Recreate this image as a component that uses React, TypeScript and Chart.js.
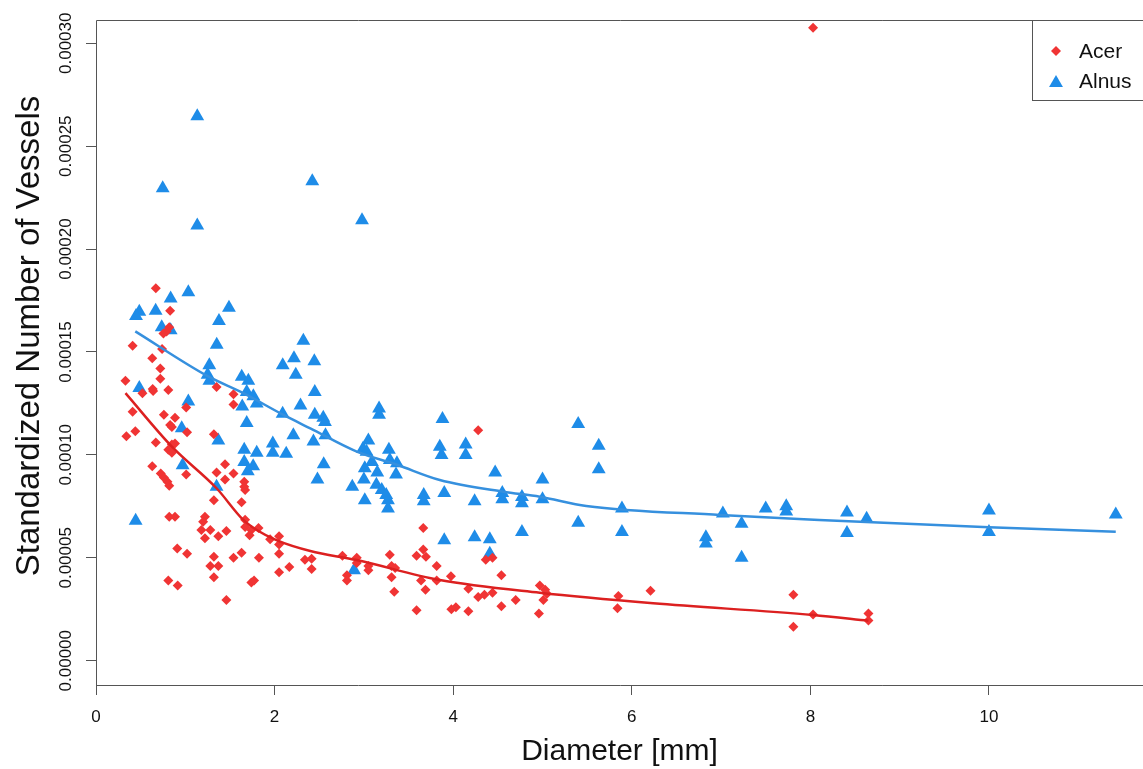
import React, { useEffect, useRef } from "react";
import { Chart, registerables } from "chart.js";

Chart.register(...registerables);

// ---------- data ----------
const seriesNames = ["Acer", "Alnus"];
const xTitle = "Diameter [mm]";
const yTitle = "Standardized Number of Vessels";
const xTicks = [0, 2, 4, 6, 8, 10];
const yTicks = [0, 5e-5, 10e-5, 15e-5, 20e-5, 25e-5, 30e-5];

const acerX = [
  0.67, 0.83, 0.755, 0.79, 0.82, 0.41, 0.74, 0.63, 0.72, 0.72, 0.33, 0.52, 0.635, 0.64, 0.81,
  1.35, 1.54, 1.54, 1.01, 0.41, 0.76, 0.885, 0.83, 0.85, 0.44, 0.34, 1.02, 1.32, 0.67, 0.85,
  0.885, 0.81, 0.85, 0.63, 0.725, 0.76, 0.8, 0.82, 1.01, 1.35, 1.445, 1.54, 1.445, 1.66, 1.66,
  1.67, 1.32, 1.63, 0.82, 0.885, 1.22, 1.2, 1.67, 1.67, 1.18, 1.28, 1.46, 1.74, 1.72, 1.82,
  1.22, 1.37, 1.95, 2.05, 2.05, 0.91, 1.02, 1.32, 1.54, 1.63, 1.825, 2.05, 2.34, 2.415, 2.415,
  1.28, 1.37, 1.32, 2.05, 2.165, 0.81, 0.915, 1.74, 1.77, 1.46, 2.76, 2.92, 2.92, 3.05, 3.05,
  2.81, 2.81, 3.29, 3.31, 3.35, 3.31, 3.34, 3.665, 3.59, 3.665, 3.695, 3.64, 3.69, 3.59, 3.815,
  3.815, 3.975, 3.98, 4.03, 4.17, 4.17, 4.28, 4.35, 4.44, 4.365, 4.44, 4.54, 4.54, 4.7, 4.28,
  4.97, 5.03, 5.05, 5.01, 4.96, 5.85, 5.84, 6.21, 7.81, 7.81, 8.03, 8.65, 8.65, 8.03,
];
const acerY = [
  18.1e-5, 17.0e-5, 15.9e-5, 16.0e-5, 16.2e-5, 15.3e-5, 15.15e-5, 14.7e-5, 14.2e-5, 13.7e-5, 13.6e-5, 13.0e-5, 13.2e-5, 13.1e-5, 13.15e-5,
  13.3e-5, 12.95e-5, 12.45e-5, 12.3e-5, 12.1e-5, 11.95e-5, 11.8e-5, 11.45e-5, 11.35e-5, 11.15e-5, 10.9e-5, 11.1e-5, 11.0e-5, 10.6e-5, 10.5e-5,
  10.55e-5, 10.25e-5, 10.1e-5, 9.45e-5, 9.1e-5, 8.9e-5, 8.7e-5, 8.5e-5, 9.05e-5, 9.15e-5, 9.55e-5, 9.1e-5, 8.8e-5, 8.7e-5, 8.45e-5,
  8.3e-5, 7.8e-5, 7.7e-5, 7.0e-5, 7.0e-5, 7.0e-5, 6.75e-5, 6.85e-5, 6.5e-5, 6.35e-5, 6.35e-5, 6.3e-5, 6.35e-5, 6.1e-5, 6.45e-5,
  5.95e-5, 6.05e-5, 5.9e-5, 6.05e-5, 5.65e-5, 5.45e-5, 5.2e-5, 5.05e-5, 5.0e-5, 5.25e-5, 5.0e-5, 5.2e-5, 4.9e-5, 4.95e-5, 4.45e-5,
  4.6e-5, 4.6e-5, 4.05e-5, 4.3e-5, 4.55e-5, 3.9e-5, 3.65e-5, 3.8e-5, 3.9e-5, 2.95e-5, 5.1e-5, 5.0e-5, 4.75e-5, 4.6e-5, 4.4e-5,
  4.15e-5, 3.9e-5, 5.15e-5, 4.6e-5, 4.5e-5, 4.05e-5, 3.35e-5, 6.45e-5, 5.1e-5, 5.4e-5, 5.05e-5, 3.9e-5, 3.45e-5, 2.45e-5, 4.6e-5,
  3.9e-5, 4.1e-5, 2.5e-5, 2.6e-5, 3.5e-5, 2.4e-5, 3.1e-5, 3.2e-5, 3.3e-5, 4.9e-5, 5.0e-5, 4.15e-5, 2.65e-5, 2.95e-5, 11.2e-5,
  3.65e-5, 3.45e-5, 3.25e-5, 2.95e-5, 2.3e-5, 3.15e-5, 2.55e-5, 3.4e-5, 3.2e-5, 1.65e-5, 2.25e-5, 2.3e-5, 1.95e-5, 30.75e-5,
];

const alnusX = [
  1.134, 0.747, 1.134, 2.422, 2.979, 1.034, 0.836, 0.485, 0.448, 0.668, 1.489, 1.377, 0.736, 0.836, 1.352,
  2.322, 2.217, 2.091, 2.237, 1.269, 1.25, 1.27, 1.632, 1.706, 1.688, 1.762, 1.8, 1.638, 1.688, 2.09,
  2.21, 2.29, 0.485, 1.034, 0.96, 1.37, 1.66, 1.8, 1.98, 1.98, 2.13, 1.66, 1.76, 1.7, 0.97,
  1.35, 0.444, 2.445, 2.45, 2.45, 2.545, 2.564, 3.17, 3.17, 2.57, 2.435, 3.05, 2.99, 3.03, 3.28,
  3.29, 3.37, 3.09, 2.55, 3.88, 3.85, 3.87, 4.14, 4.14, 4.47, 2.48, 3.01, 3.0, 2.87, 3.01,
  3.15, 3.14, 3.2, 3.25, 3.27, 3.27, 3.36, 3.67, 3.67, 3.9, 4.24, 4.55, 4.55, 4.77, 4.77,
  5.0, 3.9, 4.24, 4.41, 4.77, 4.41, 2.89, 5.4, 5.63, 5.63, 5.0, 5.4, 5.89, 5.89, 6.83,
  6.83, 7.02, 7.23, 7.23, 7.5, 7.73, 7.73, 8.41, 8.41, 8.63, 10.0, 10.0, 11.42,
];
const alnusY = [
  26.45e-5, 22.95e-5, 21.15e-5, 23.3e-5, 21.4e-5, 17.9e-5, 17.6e-5, 16.95e-5, 16.75e-5, 17.0e-5, 17.15e-5, 16.5e-5, 16.2e-5, 16.05e-5, 15.35e-5,
  15.55e-5, 14.7e-5, 14.35e-5, 13.9e-5, 14.35e-5, 13.9e-5, 13.6e-5, 13.8e-5, 13.6e-5, 13.05e-5, 12.85e-5, 12.5e-5, 12.35e-5, 11.55e-5, 12.0e-5,
  10.95e-5, 12.4e-5, 13.25e-5, 12.6e-5, 11.3e-5, 10.7e-5, 10.25e-5, 10.1e-5, 10.55e-5, 10.1e-5, 10.05e-5, 9.65e-5, 9.45e-5, 9.2e-5, 9.5e-5,
  8.45e-5, 6.8e-5, 14.55e-5, 13.05e-5, 11.95e-5, 11.8e-5, 11.6e-5, 12.25e-5, 11.95e-5, 10.95e-5, 10.65e-5, 10.7e-5, 10.3e-5, 10.15e-5, 10.25e-5,
  9.75e-5, 9.6e-5, 9.65e-5, 9.55e-5, 11.75e-5, 10.4e-5, 10.0e-5, 10.5e-5, 10.0e-5, 9.15e-5, 8.8e-5, 9.35e-5, 8.8e-5, 8.45e-5, 7.8e-5,
  9.15e-5, 8.55e-5, 8.3e-5, 8.05e-5, 7.8e-5, 7.4e-5, 9.05e-5, 8.05e-5, 7.75e-5, 8.15e-5, 7.75e-5, 8.15e-5, 7.85e-5, 7.95e-5, 7.65e-5,
  7.85e-5, 5.85e-5, 6.0e-5, 5.9e-5, 6.25e-5, 5.2e-5, 4.4e-5, 11.5e-5, 10.45e-5, 9.3e-5, 8.8e-5, 6.7e-5, 7.4e-5, 6.25e-5, 6.0e-5,
  5.7e-5, 7.15e-5, 6.65e-5, 5.0e-5, 7.4e-5, 7.5e-5, 7.25e-5, 7.2e-5, 6.2e-5, 6.9e-5, 7.3e-5, 6.25e-5, 7.1e-5,
];

const acerFitX = [0.33, 0.85, 1.35, 1.65, 1.8, 2.02, 2.4, 2.92, 3.85, 4.97, 6.24, 8.03, 8.65];
const acerFitY = [13.0e-5, 10.4e-5, 8.38e-5, 6.84e-5, 6.35e-5, 5.86e-5, 5.33e-5, 4.89e-5, 3.92e-5, 3.3e-5, 2.79e-5, 2.22e-5, 1.94e-5];
const alnusFitX = [0.44, 1.24, 1.65, 2.1, 2.4, 2.92, 3.37, 3.85, 4.56, 4.97, 5.49, 6.99, 8.1, 10.0, 11.42];
const alnusFitY = [16.0e-5, 13.85e-5, 13.0e-5, 11.94e-5, 11.29e-5, 10.16e-5, 9.52e-5, 8.78e-5, 8.21e-5, 7.97e-5, 7.52e-5, 7.08e-5, 6.84e-5, 6.48e-5, 6.27e-5];

// ---------- styling ----------
const W = 1143;
const H = 769;
const FONT = "'Liberation Sans', Arial, Helvetica, sans-serif";
const RED = "#F03434";
const RED_LINE = "#DC2020";
const BLUE = "#1E8CE8";
const BLUE_LINE = "#3690DE";
const AXIS = "#555555";

const zip = (xs: number[], ys: number[]) => xs.map((x, i) => ({ x, y: ys[i] }));

const decorPlugin = {
  id: "decor",
  afterDraw(chart: any) {
    const ctx = chart.ctx as CanvasRenderingContext2D;
    const area = chart.chartArea;
    const ys = chart.scales.y;
    ctx.save();
    // plot box
    ctx.strokeStyle = AXIS;
    ctx.lineWidth = 1;
    ctx.beginPath();
    ctx.moveTo(W + 20, area.top + 0.5);
    ctx.lineTo(area.left + 0.5, area.top + 0.5);
    ctx.lineTo(area.left + 0.5, area.bottom + 0.5);
    ctx.lineTo(W + 20, area.bottom + 0.5);
    ctx.stroke();

    // y tick labels (rotated)
    ctx.fillStyle = "#111";
    ctx.font = `17px ${FONT}`;
    ctx.textAlign = "center";
    ctx.textBaseline = "middle";
    for (const v of yTicks) {
      const py = ys.getPixelForValue(v);
      ctx.save();
      ctx.translate(66, py);
      ctx.rotate(-Math.PI / 2);
      ctx.fillText(v.toFixed(5), 0, 0);
      ctx.restore();
    }

    // axis titles
    ctx.font = `33px ${FONT}`;
    ctx.save();
    ctx.translate(30, 336);
    ctx.rotate(-Math.PI / 2);
    ctx.fillText(yTitle, 0, 0);
    ctx.restore();
    ctx.font = `30px ${FONT}`;
    ctx.fillText(xTitle, (area.left + area.right) / 2, 752);

    // legend
    const lx = 1032.5;
    const ly = area.top + 0.5;
    ctx.fillStyle = "#fff";
    ctx.fillRect(lx, ly, 200, 80);
    ctx.strokeStyle = AXIS;
    ctx.strokeRect(lx, ly, 200, 80);
    const rows = [51, 81];
    // diamond
    ctx.fillStyle = RED;
    ctx.beginPath();
    ctx.moveTo(1056 - 5, rows[0]);
    ctx.lineTo(1056, rows[0] - 5);
    ctx.lineTo(1056 + 5, rows[0]);
    ctx.lineTo(1056, rows[0] + 5);
    ctx.closePath();
    ctx.fill();
    // triangle
    ctx.fillStyle = BLUE;
    const r = 8;
    ctx.beginPath();
    ctx.moveTo(1056, rows[1] + 2 - r);
    ctx.lineTo(1056 + r * Math.sin((2 * Math.PI) / 3), rows[1] + 2 + r / 2);
    ctx.lineTo(1056 - r * Math.sin((2 * Math.PI) / 3), rows[1] + 2 + r / 2);
    ctx.closePath();
    ctx.fill();
    ctx.fillStyle = "#111";
    ctx.font = `21px ${FONT}`;
    ctx.textAlign = "left";
    ctx.fillText(seriesNames[0], 1079, rows[0] + 1);
    ctx.fillText(seriesNames[1], 1079, rows[1] + 1);
    ctx.restore();
  },
};

export default function App() {
  const ref = useRef<HTMLCanvasElement | null>(null);
  useEffect(() => {
    if (!ref.current) return;
    const chart = new Chart(ref.current, {
      type: "scatter",
      data: {
        datasets: [
          {
            label: seriesNames[0] + " fit",
            data: zip(acerFitX, acerFitY),
            showLine: true,
            borderColor: RED_LINE,
            borderWidth: 2.5,
            pointRadius: 0,
            cubicInterpolationMode: "monotone",
            order: 0,
          },
          {
            label: seriesNames[1] + " fit",
            data: zip(alnusFitX, alnusFitY),
            showLine: true,
            borderColor: BLUE_LINE,
            borderWidth: 2.5,
            pointRadius: 0,
            cubicInterpolationMode: "monotone",
            order: 1,
          },
          {
            label: seriesNames[0],
            data: zip(acerX, acerY),
            pointStyle: "rectRot",
            pointRadius: 5,
            backgroundColor: RED,
            borderWidth: 0,
            order: 2,
          },
          {
            label: seriesNames[1],
            data: zip(alnusX, alnusY),
            pointStyle: "triangle",
            pointRadius: 8,
            backgroundColor: BLUE,
            borderWidth: 0,
            order: 3,
          },
        ],
      } as any,
      options: {
        responsive: false,
        maintainAspectRatio: false,
        animation: false,
        layout: { autoPadding: false, padding: { top: 20, left: 0, right: 0, bottom: 0 } },
        plugins: { legend: { display: false }, tooltip: { enabled: false } },
        scales: {
          x: {
            type: "linear",
            min: 0,
            max: 11.725,
            afterBuildTicks: (s: any) => {
              s.ticks = xTicks.map((v) => ({ value: v }));
            },
            afterFit: (s: any) => {
              s.height = 84;
              s.paddingLeft = 0;
              s.paddingRight = 0;
            },
            ticks: {
              font: { family: FONT, size: 17 },
              color: "#111",
              padding: 12,
              maxRotation: 0,
              includeBounds: false,
              callback: (v: any) => String(v),
            },
            grid: { drawOnChartArea: false, drawTicks: true, tickLength: 10, color: AXIS, lineWidth: 1 },
            border: { display: false },
          },
          y: {
            type: "linear",
            min: -1.18e-5,
            max: 31.13e-5,
            afterBuildTicks: (s: any) => {
              s.ticks = yTicks.map((v) => ({ value: v }));
            },
            afterFit: (s: any) => {
              s.width = 96;
              s.paddingTop = 0;
              s.paddingBottom = 0;
            },
            ticks: { display: false, includeBounds: false },
            grid: { drawOnChartArea: false, drawTicks: true, tickLength: 10, color: AXIS, lineWidth: 1 },
            border: { display: false },
          },
        },
      } as any,
      plugins: [decorPlugin],
    });
    return () => chart.destroy();
  }, []);

  return (
    <div style={{ position: "fixed", left: 0, top: 0, width: W, height: H, background: "#fff" }}>
      <canvas ref={ref} width={W} height={H} style={{ display: "block", width: W, height: H }} />
    </div>
  );
}
